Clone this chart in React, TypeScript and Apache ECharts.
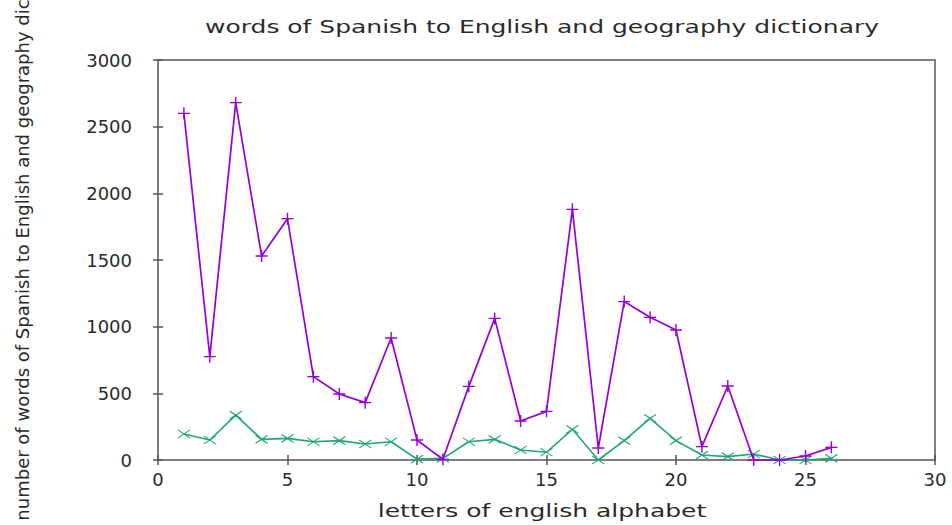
import React, { useEffect, useRef } from "react";
import * as echarts from "echarts";

const letterIndex = [1, 2, 3, 4, 5, 6, 7, 8, 9, 10, 11, 12, 13, 14, 15, 16, 17, 18, 19, 20, 21, 22, 23, 24, 25, 26];
const spanishEnglish = [2600, 775, 2680, 1530, 1810, 625, 495, 430, 915, 150, 5, 552, 1062, 292, 365, 1880, 90, 1188, 1070, 975, 100, 555, 0, 0, 30, 95];
const geography = [195, 150, 337, 155, 162, 137, 145, 120, 137, 7, 12, 137, 155, 75, 58, 230, 0, 145, 312, 145, 37, 25, 45, 0, 0, 12];
const xTicks = { min: 0, max: 30, interval: 5 };
const yTicks = { min: 0, max: 3000, interval: 500 };

const titleText = "words of Spanish to English and geography dictionary";
const xName = "letters of english alphabet";
const yName = "number of words of Spanish to English and geography dic";

const PURPLE = "#9400d3";
const GREEN = "#1fa57a";
const TEXT = "#2a2a2a";
const AXIS = "#555555";
const FONT = "DejaVu Sans";

export default function App() {
  const ref = useRef<HTMLDivElement>(null);
  useEffect(() => {
    if (!ref.current) return;
    const chart = echarts.init(ref.current, null, { renderer: "svg" });
    const tickStyle = { show: true, inside: true, length: 5, lineStyle: { color: AXIS, width: 1.5 } };
    const option: any = {
      animation: false,
      backgroundColor: "#ffffff",
      grid: {
        left: 158,
        right: 17,
        top: 60,
        bottom: 65,
        show: true,
        borderColor: AXIS,
        borderWidth: 1.5,
        backgroundColor: "transparent",
      },
      xAxis: [
        {
          type: "value",
          ...xTicks,
          axisLine: { show: false },
          axisTick: tickStyle,
          splitLine: { show: false },
          axisLabel: { color: TEXT, fontFamily: FONT, fontSize: 18, margin: 10, formatter: (v: number) => String(v) },
        },
        {
          type: "value",
          position: "top",
          ...xTicks,
          axisLine: { show: false },
          axisTick: tickStyle,
          splitLine: { show: false },
          axisLabel: { show: false },
        },
      ],
      yAxis: [
        {
          type: "value",
          ...yTicks,
          axisLine: { show: false },
          axisTick: tickStyle,
          splitLine: { show: false },
          axisLabel: { color: TEXT, fontFamily: FONT, fontSize: 18, margin: 26, formatter: (v: number) => String(v) },
        },
        {
          type: "value",
          position: "right",
          ...yTicks,
          axisLine: { show: false },
          axisTick: tickStyle,
          splitLine: { show: false },
          axisLabel: { show: false },
        },
      ],
      graphic: [
        {
          type: "text",
          x: 542,
          y: 27,
          scaleX: 1.47,
          style: { text: titleText, fill: TEXT, font: `17px '${FONT}'`, align: "center", verticalAlign: "middle" },
        },
        {
          type: "text",
          x: 542,
          y: 511,
          scaleX: 1.47,
          style: { text: xName, fill: TEXT, font: `17px '${FONT}'`, align: "center", verticalAlign: "middle" },
        },
        {
          type: "text",
          x: 22,
          y: 260,
          rotation: Math.PI / 2,
          style: { text: yName, fill: TEXT, font: `18px '${FONT}'`, align: "center", verticalAlign: "middle" },
        },
      ],
      series: [
        {
          type: "line",
          data: letterIndex.map((x, i) => [x, spanishEnglish[i]]),
          symbol: "path://M0,6L12,6M6,0L6,12",
          symbolSize: 12,
          showAllSymbol: true,
          lineStyle: { color: PURPLE, width: 1.7 },
          itemStyle: { color: "none", borderColor: PURPLE, borderWidth: 1.4 },
          clip: false,
          z: 3,
        },
        {
          type: "line",
          data: letterIndex.map((x, i) => [x, geography[i]]),
          symbol: "path://M0,0L12,8M0,8L12,0",
          symbolSize: [12, 8],
          showAllSymbol: true,
          lineStyle: { color: GREEN, width: 1.6 },
          itemStyle: { color: "none", borderColor: GREEN, borderWidth: 1.2 },
          clip: false,
          z: 2,
        },
      ],
    };
    chart.setOption(option);
    return () => chart.dispose();
  }, []);
  return <div ref={ref} style={{ position: "fixed", left: 0, top: 0, width: 952, height: 525 }} />;
}
